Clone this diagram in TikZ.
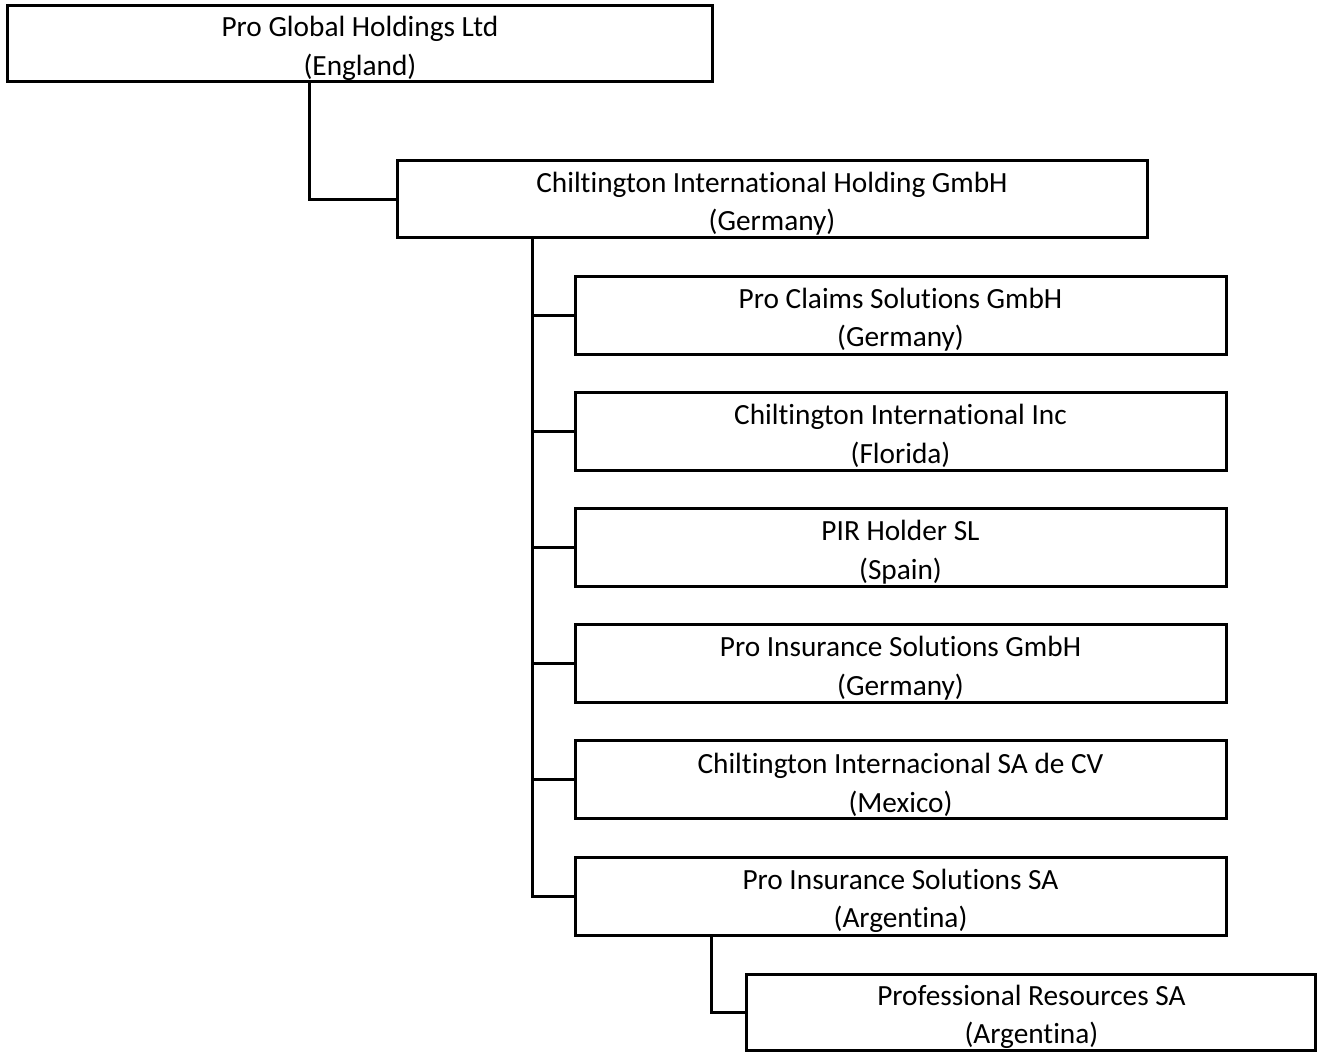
\documentclass[tikz,border=0pt]{standalone}
\usepackage{fontspec}
\setmainfont{Carlito}[RawFeature={-liga;-clig;-dlig;-calt}]
\usetikzlibrary{calc}
\newcommand\tstr{\rule{0pt}{30pt}}
\begin{document}
\begin{tikzpicture}[x=1pt,y=-1pt,
  entity/.style={draw=black, line width=3pt, rectangle, inner sep=0pt,
    align=center, font=\fontsize{29.3}{38.5}\selectfont},
  link/.style={draw=black, line width=3pt, line join=miter}]
\useasboundingbox (0,0) rectangle (1324,1054);
% boxes
\node[entity, minimum width=705pt, minimum height=76pt] (b1) at (360,43.6) {\tstr Pro Global Holdings Ltd\\(England)};
\node[entity, minimum width=750pt, minimum height=76.5pt] (b2) at (772,199) {\tstr Chiltington International Holding GmbH\\(Germany)};
\node[entity, minimum width=651pt, minimum height=78pt] (c1) at (900.5,315) {\tstr Pro Claims Solutions GmbH\\(Germany)};
\node[entity, minimum width=651pt, minimum height=78pt] (c2) at (900.5,431.2) {\tstr Chiltington International Inc\\(Florida)};
\node[entity, minimum width=651pt, minimum height=78pt] (c3) at (900.5,547.4) {\tstr PIR Holder SL\\(Spain)};
\node[entity, minimum width=651pt, minimum height=78pt] (c4) at (900.5,663.6) {\tstr Pro Insurance Solutions GmbH\\(Germany)};
\node[entity, minimum width=651pt, minimum height=78pt] (c5) at (900.5,779.8) {\tstr Chiltington Internacional SA de CV\\(Mexico)};
\node[entity, minimum width=651pt, minimum height=78pt] (c6) at (900.5,896) {\tstr Pro Insurance Solutions SA\\(Argentina)};
\node[entity, minimum width=569pt, minimum height=76pt] (d1) at (1031.4,1012) {\tstr Professional Resources SA\\(Argentina)};
% junction columns
\coordinate (j1) at ($(b1.south west)+(303.5,0)$);
\coordinate (j2) at ($(b2.south west)+(137,0)$);
\coordinate (j3) at ($(c6.south west)+(138,0)$);
% connectors
\draw[link] (j1) |- (b2.west);
\draw[link] (j2) |- (c6.west);
\foreach \c in {c1,c2,c3,c4,c5}{
  \draw[link] (j2 |- \c.west) -- (\c.west);
}
\draw[link] (j3) |- (d1.west);
\end{tikzpicture}
\end{document}
